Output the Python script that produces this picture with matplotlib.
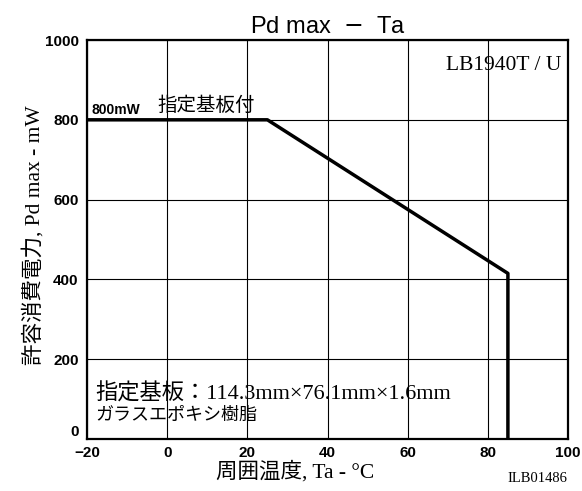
import matplotlib
matplotlib.use("Agg")
import matplotlib.pyplot as plt

# derating curve
ta = [-20, 25, 85, 85]
pd_max = [800, 800, 415, 0]

x_ticks = [-20, 0, 20, 40, 60, 80, 100]
y_ticks = [0, 200, 400, 600, 800, 1000]

jp_serif = ['Liberation Serif', 'Noto Sans CJK JP']
jp_sans = ['Noto Sans CJK JP', 'DejaVu Sans']
plt.rcParams['font.family'] = ['Liberation Sans', 'DejaVu Sans']

fig = plt.figure(figsize=(5.82, 4.91), dpi=100)
ax = fig.add_axes([0.1495, 0.106, 0.8265, 0.8125])

ax.set_xlim(-20, 100)
ax.set_ylim(0, 1000)
ax.set_xticks(x_ticks)
ax.set_yticks(y_ticks)
ax.grid(True, color='black', linewidth=0.8)
ax.tick_params(length=0, labelsize=11)
ax.tick_params(axis='x', pad=5)
ax.tick_params(axis='y', pad=6)
for lab in ax.get_xticklabels() + ax.get_yticklabels():
    lab.set_fontweight('bold')
ax.get_yticklabels()[0].set_va('bottom')
for s in ax.spines.values():
    s.set_linewidth(1.6)

ax.plot(ta, pd_max, color='black', linewidth=2.5, solid_capstyle='butt')

ax.set_title('Pd max  $-$  Ta', fontsize=17, pad=5)
ax.set_xlabel('周囲温度, Ta - °C', family=jp_serif, fontsize=15.5)
ax.xaxis.set_label_coords(0.432, -0.055)
ax.set_ylabel('許容消費電力, Pd max - mW', family=jp_serif, fontsize=15.5)
ax.yaxis.set_label_coords(-0.088, 0.51)

ax.text(0.987, 0.935, 'LB1940T / U', transform=ax.transAxes, ha='right', va='center',
        family=jp_serif, fontsize=15.5)
ax.text(-19, 808, '800mW', ha='left', va='bottom', fontsize=10, fontweight='bold')
ax.text(-2.5, 810, '指定基板付', ha='left', va='bottom', family=jp_sans, fontsize=14)
ax.text(-18, 113, '指定基板：114.3mm×76.1mm×1.6mm', ha='left', va='center',
        family=jp_serif, fontsize=16)
ax.text(-18, 60, 'ガラスエポキシ樹脂', ha='left', va='center', family=jp_sans, fontsize=13)
fig.text(0.975, 0.026, 'ILB01486', ha='right', va='center', family=jp_serif, fontsize=10.5)

fig.savefig('out.png', dpi=100)
